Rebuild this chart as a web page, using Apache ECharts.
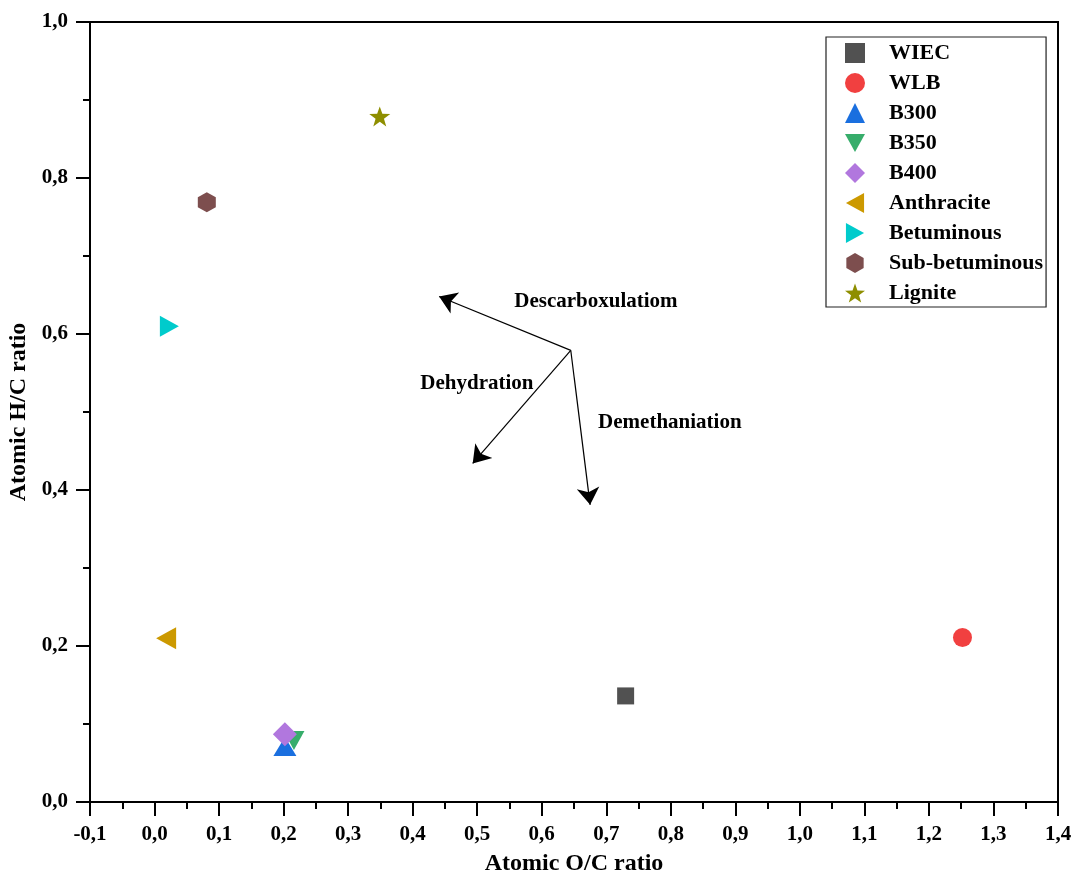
<!DOCTYPE html>
<html>
<head>
<meta charset="utf-8">
<script src="https://cdn.jsdelivr.net/npm/echarts@6/dist/echarts.min.js"></script>
<style>html,body{margin:0;padding:0;background:#fff}#c{width:1074px;height:873px}</style>
</head>
<body>
<div id="c"></div>
<script>
// ---- data ----
const names = ['WIEC','WLB','B300','B350','B400','Anthracite','Betuminous','Sub-betuminous','Lignite'];
const xVals = [0.730, 1.252, 0.202, 0.216, 0.202, 0.018, 0.023, 0.081, 0.349];
const yVals = [0.136, 0.211, 0.071, 0.079, 0.087, 0.210, 0.610, 0.769, 0.879];
const colors = ['#515151','#F14040','#1A6FDF','#37AD6B','#B177DE','#CC9900','#00CBCC','#7D4E4E','#8E8E00'];

const arrowStart = [0.645, 0.579];
const arrowEndX = [0.441, 0.493, 0.675];
const arrowEndY = [0.648, 0.434, 0.381];

const noteText = ['Descarboxulatiom', 'Dehydration', 'Demethaniation'];
const noteX = [0.684, 0.4995, 0.7985];
const noteY = [0.641, 0.537, 0.487];

const xTicks = { min: -0.1, max: 1.4, step: 0.1 };
const yTicks = { min: 0, max: 1.0, step: 0.2 };

// ---- styles ----
const FONT = 'Liberation Serif';
const symbols = [
  'rect',
  'circle',
  'triangle',
  'path://M0,0 L10,0 L5,9 Z',
  'diamond',
  'path://M10,0 L10,11 L0,5.5 Z',
  'path://M0,0 L0,11 L10,5.5 Z',
  'path://M5,0 L9.33,2.5 L9.33,7.5 L5,10 L0.67,7.5 L0.67,2.5 Z',
  'path://M10,0 L12.35,6.76 L19.51,6.91 L13.8,11.24 L15.88,18.09 L10,14 L4.12,18.09 L6.2,11.24 L0.49,6.91 L7.65,6.76 Z'
];
const sizes = [[17,17],[19,19],[23,19],[21,19],[24,24],[20,22],[19,21],[18,20],[21,20]];

const fmt = v => (Math.round(v*10)/10).toFixed(1).replace('.', ',');

const series = names.map((n, i) => ({
  name: n,
  type: 'scatter',
  symbol: symbols[i],
  symbolSize: sizes[i],
  itemStyle: { color: colors[i], opacity: 1 },
  data: [[xVals[i], yVals[i]]],
  z: 3 + i
}));

series.push({
  name: 'arrows',
  type: 'lines',
  coordinateSystem: 'cartesian2d',
  symbol: ['none', 'arrow'],
  symbolSize: [1, 17],
  lineStyle: { color: '#000', width: 1.2, opacity: 1 },
  data: arrowEndX.map((x, i) => ({ coords: [arrowStart, [x, arrowEndY[i]]] })),
  z: 2,
  silent: true
});

series.push({
  name: 'notes',
  type: 'scatter',
  symbol: 'circle',
  symbolSize: 1,
  itemStyle: { color: 'rgba(0,0,0,0)', opacity: 1 },
  data: noteText.map((t, i) => ({ value: [noteX[i], noteY[i]], name: t })),
  label: {
    show: true, position: 'inside', formatter: p => p.name, opacity: 1,
    fontFamily: FONT, fontWeight: 'bold', fontSize: 21, color: '#000'
  },
  silent: true,
  z: 2
});

const chart = echarts.init(document.getElementById('c'), null, { renderer: 'canvas' });
chart.setOption({
  animation: false,
  backgroundColor: '#fff',
  grid: { left: 90, right: 16, top: 22, bottom: 71, outerBoundsMode: 'none', containLabel: false,
          show: true, borderColor: '#000', borderWidth: 2 },
  legend: {
    data: names,
    orient: 'vertical',
    left: 826, top: 37,
    padding: [5, 3, 3, 19],
    itemWidth: 20, itemHeight: 20, itemGap: 8,
    borderColor: '#222', borderWidth: 1.2, backgroundColor: '#fff',
    textStyle: { fontFamily: FONT, fontWeight: 'bold', fontSize: 22, color: '#000', padding: [0, 0, 0, 19] }
  },
  xAxis: {
    type: 'value', min: xTicks.min, max: xTicks.max, interval: xTicks.step,
    name: 'Atomic O/C ratio', nameLocation: 'middle', nameGap: 50,
    nameTextStyle: { fontFamily: FONT, fontWeight: 'bold', fontSize: 24, color: '#000' },
    axisLine: { show: true, onZero: false, lineStyle: { color: '#000', width: 2 } },
    axisTick: { show: true, inside: false, length: 14, lineStyle: { color: '#000', width: 2 } },
    minorTick: { show: true, splitNumber: 2, length: 7, lineStyle: { color: '#000', width: 2 } },
    splitLine: { show: false },
    axisLabel: { formatter: fmt, margin: 22, fontFamily: FONT, fontWeight: 'bold', fontSize: 21, color: '#000' }
  },
  yAxis: {
    type: 'value', min: yTicks.min, max: yTicks.max, interval: yTicks.step,
    name: 'Atomic H/C ratio', nameLocation: 'middle', nameGap: 54,
    nameTextStyle: { fontFamily: FONT, fontWeight: 'bold', fontSize: 24, color: '#000' },
    axisLine: { show: true, onZero: false, lineStyle: { color: '#000', width: 2 } },
    axisTick: { show: true, inside: false, length: 14, lineStyle: { color: '#000', width: 2 } },
    minorTick: { show: true, splitNumber: 2, length: 7, lineStyle: { color: '#000', width: 2 } },
    splitLine: { show: false },
    axisLabel: { formatter: fmt, margin: 22, fontFamily: FONT, fontWeight: 'bold', fontSize: 21, color: '#000' }
  },
  series: series
});
</script>
</body>
</html>
